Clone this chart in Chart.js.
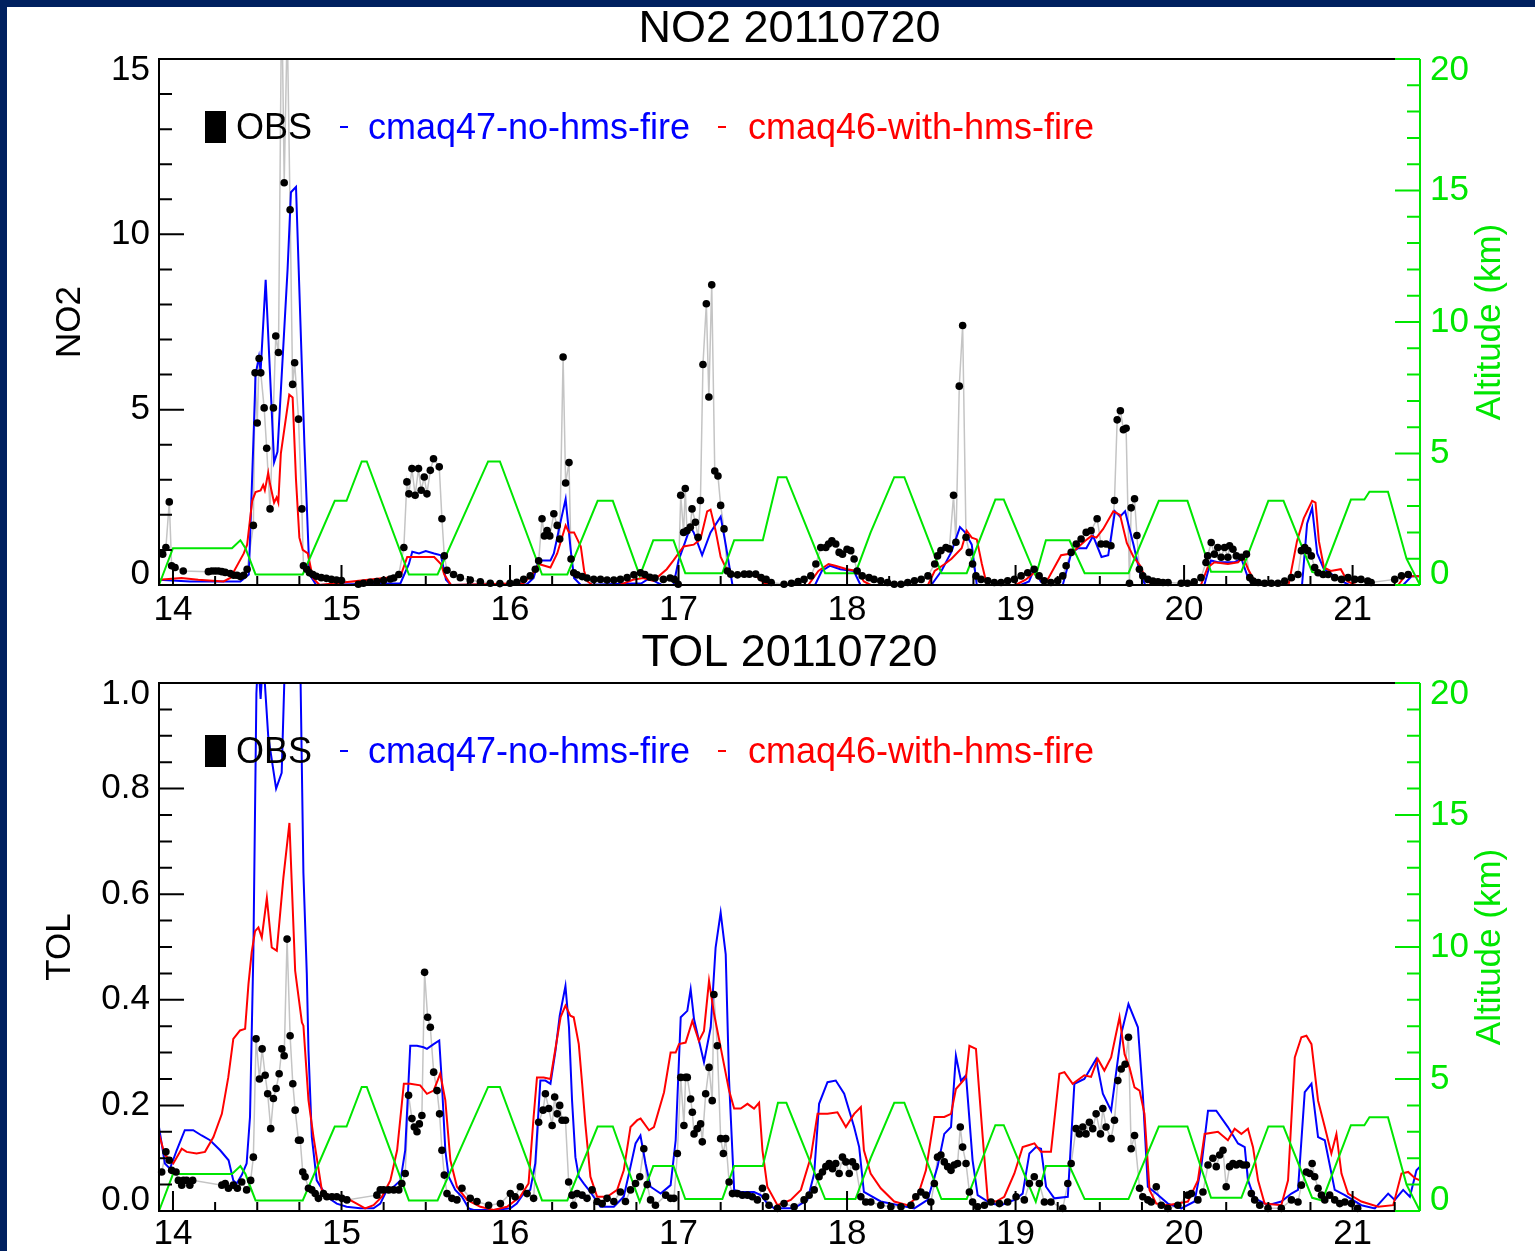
<!DOCTYPE html>
<html>
<head>
<meta charset="utf-8">
<title>NO2 / TOL 20110720</title>
<script src="https://cdn.jsdelivr.net/npm/chart.js@4.4.1/dist/chart.umd.min.js"></script>
<style>
  html, body { margin: 0; padding: 0; background: #00205f; }
  #page { position: absolute; left: 7px; top: 7px; width: 1528px; height: 1244px; background: #fff; }
  #page canvas { position: absolute; left: 0; }
  #no2 { top: 0; }
  #tol { top: 615px; }
</style>
</head>
<body>
<div id="page">
  <canvas id="no2" width="1528" height="615"></canvas>
  <canvas id="tol" width="1528" height="629"></canvas>
</div>
<script>
// flight hours (UTC) and values, as [hour, value] pairs
const flightDate = '20110720';
const legendLabels = ['OBS', 'cmaq47-no-hms-fire', 'cmaq46-with-hms-fire'];
const hourTicks = [14, 15, 16, 17, 18, 19, 20, 21];

const altitudeKm = [
  [13.917,0],[14.00,1.4],[14.35,1.4],[14.40,1.7],[14.43,1.4],[14.49,0.4],[14.77,0.4],[14.96,3.2],
  [15.03,3.2],[15.12,4.7],[15.15,4.7],[15.40,0.4],[15.57,0.4],[15.87,4.7],[15.94,4.7],[16.19,0.4],
  [16.34,0.4],[16.52,3.2],[16.61,3.2],[16.77,0.35],[16.85,1.7],[16.97,1.7],[17.04,0.45],[17.26,0.45],
  [17.33,1.7],[17.50,1.7],[17.59,4.1],[17.64,4.1],[17.87,0.45],[18.05,0.45],[18.14,2.0],[18.28,4.1],
  [18.34,4.1],[18.56,0.45],[18.71,0.45],[18.88,3.25],[18.93,3.25],[19.12,0.35],[19.18,1.7],[19.32,1.7],
  [19.41,0.45],[19.67,0.45],[19.85,3.2],[20.02,3.2],[20.16,0.5],[20.34,0.5],[20.50,3.2],[20.59,3.2],
  [20.76,0.5],[20.82,0.4],[20.99,3.25],[21.07,3.25],[21.10,3.55],[21.21,3.55],[21.32,1.0],[21.40,0]
];

const no2Obs = [
  [13.939,0.88],[13.958,1.07],[13.978,2.37],[13.992,0.55],[14.012,0.5],[14.061,0.4],
  [14.21,0.38],[14.23,0.4],[14.25,0.4],[14.27,0.4],[14.29,0.38],[14.31,0.36],[14.34,0.33],[14.36,0.28],
  [14.38,0.28],[14.40,0.24],[14.42,0.28],[14.44,0.45],[14.477,1.7],[14.487,6.05],[14.50,4.62],[14.511,6.46],
  [14.521,6.05],[14.541,5.05],[14.556,3.9],[14.576,2.17],[14.596,5.05],[14.61,7.1],[14.626,6.63],[14.645,17],
  [14.66,11.47],[14.678,16],[14.695,10.7],[14.71,5.72],[14.722,6.34],[14.745,4.73],[14.765,2.17],[14.774,0.55],
  [14.794,0.45],[14.81,0.35],[14.83,0.3],[14.85,0.25],[14.88,0.21],[14.91,0.19],[14.94,0.16],[14.97,0.14],
  [15.0,0.13],[15.10,0.02],[15.13,0.05],[15.17,0.08],[15.21,0.1],[15.25,0.13],[15.29,0.17],[15.31,0.2],
  [15.34,0.3],[15.37,1.07],[15.388,2.94],[15.40,2.6],[15.418,3.32],[15.437,2.56],[15.457,3.32],[15.473,2.7],
  [15.491,3.08],[15.507,2.6],[15.527,3.27],[15.546,3.6],[15.58,3.37],[15.596,1.89],[15.61,0.83],[15.626,0.42],
  [15.665,0.3],[15.705,0.21],[15.764,0.14],[15.824,0.09],[15.883,0.05],[15.94,0.04],[16.0,0.05],[16.04,0.08],
  [16.081,0.16],[16.12,0.26],[16.15,0.45],[16.17,0.69],[16.19,1.89],[16.204,1.4],[16.22,1.55],[16.236,1.4],
  [16.26,2.03],[16.28,1.7],[16.295,1.31],[16.315,6.5],[16.33,2.91],[16.35,3.49],[16.362,0.74],[16.378,0.35],
  [16.398,0.29],[16.428,0.24],[16.457,0.2],[16.497,0.16],[16.537,0.16],[16.576,0.14],[16.616,0.14],[16.655,0.16],
  [16.695,0.21],[16.735,0.29],[16.774,0.35],[16.80,0.3],[16.83,0.22],[16.86,0.2],[16.91,0.16],[16.95,0.2],
  [16.975,0.16],[16.998,0.02],[17.013,2.56],[17.03,1.5],[17.04,2.75],[17.05,1.55],[17.07,1.65],[17.08,2.17],
  [17.10,1.79],[17.116,1.36],[17.13,2.41],[17.145,6.29],[17.165,8.02],[17.18,5.36],[17.197,8.56],[17.215,3.25],
  [17.234,3.11],[17.25,2.27],[17.27,1.6],[17.29,0.4],[17.31,0.31],[17.35,0.29],[17.39,0.31],[17.42,0.31],
  [17.458,0.31],[17.49,0.21],[17.52,0.16],[17.55,0.07],[17.626,0.02],[17.67,0.05],[17.71,0.1],[17.745,0.16],
  [17.785,0.26],[17.815,0.6],[17.844,1.07],[17.874,1.07],[17.89,1.17],[17.91,1.26],[17.933,1.17],[17.953,0.93],
  [17.973,0.88],[18.0,1.02],[18.022,0.98],[18.042,0.74],[18.06,0.4],[18.09,0.26],[18.13,0.21],[18.16,0.16],
  [18.2,0.12],[18.24,0.07],[18.28,0.02],[18.32,0.02],[18.36,0.07],[18.40,0.12],[18.44,0.16],[18.48,0.26],
  [18.52,0.6],[18.537,0.83],[18.557,0.98],[18.587,1.07],[18.607,1.03],[18.632,2.56],[18.646,1.22],[18.666,5.67],
  [18.686,7.4],[18.706,1.36],[18.725,0.93],[18.745,0.6],[18.765,0.26],[18.795,0.16],[18.835,0.12],[18.874,0.07],
  [18.914,0.07],[18.953,0.12],[18.993,0.16],[19.033,0.26],[19.072,0.35],[19.11,0.45],[19.14,0.26],[19.17,0.12],
  [19.21,0.07],[19.25,0.12],[19.28,0.26],[19.30,0.55],[19.33,0.93],[19.36,1.17],[19.389,1.31],[19.419,1.5],
  [19.448,1.55],[19.484,1.89],[19.507,1.17],[19.537,1.17],[19.566,1.12],[19.587,2.41],[19.603,4.71],[19.622,4.97],
  [19.64,4.43],[19.656,4.47],[19.676,0.05],[19.686,2.2],[19.706,2.46],[19.72,1.41],[19.735,0.45],[19.755,0.26],
  [19.785,0.16],[19.815,0.11],[19.845,0.09],[19.875,0.07],[19.905,0.07],[19.983,0.05],[20.02,0.05],[20.06,0.09],
  [20.1,0.21],[20.13,0.64],[20.14,0.83],[20.161,1.21],[20.18,0.88],[20.2,1.07],[20.22,0.79],[20.24,1.07],
  [20.26,0.79],[20.27,1.12],[20.29,1.02],[20.31,0.83],[20.34,0.79],[20.37,0.88],[20.39,0.21],[20.41,0.11],
  [20.44,0.07],[20.478,0.05],[20.518,0.05],[20.557,0.05],[20.597,0.11],[20.637,0.21],[20.676,0.3],[20.696,0.98],
  [20.716,1.07],[20.735,0.98],[20.755,0.83],[20.775,0.5],[20.795,0.35],[20.825,0.3],[20.855,0.3],[20.894,0.21],
  [20.934,0.16],[20.973,0.21],[21.013,0.16],[21.05,0.16],[21.09,0.11],[21.11,0.07],[21.25,0.16],[21.29,0.26],
  [21.33,0.3]
];

const no2Cmaq47 = [
  [13.917,0.15],[14.1,0.1],[14.4,0.1],[14.45,0.3],[14.48,4.5],[14.49,6.0],[14.51,6.5],[14.52,6.1],
  [14.55,8.7],[14.6,3.5],[14.62,3.8],[14.68,9.0],[14.70,11.2],[14.73,11.35],[14.78,4.0],[14.81,0.3],
  [14.85,0.0],[15.35,0.05],[15.40,0.6],[15.42,0.95],[15.46,0.9],[15.50,0.97],[15.55,0.9],[15.59,0.85],
  [15.62,0.15],[15.65,0.0],[16.10,0.02],[16.14,0.2],[16.17,0.7],[16.24,0.7],[16.26,0.9],[16.30,1.8],
  [16.33,2.45],[16.36,1.0],[16.38,0.2],[16.42,0.0],[16.78,0.05],[16.83,0.2],[16.86,0.1],[16.9,0.0],
  [16.97,0.0],[17.0,0.7],[17.03,1.1],[17.07,1.65],[17.09,1.5],[17.14,0.85],[17.19,1.5],[17.25,1.95],
  [17.28,1.15],[17.32,0.0],[17.81,0.0],[17.85,0.4],[17.9,0.55],[17.96,0.45],[18.04,0.4],[18.08,0.0],
  [18.5,0.0],[18.56,0.4],[18.62,0.95],[18.67,1.65],[18.7,1.5],[18.74,1.15],[18.77,0.0],[19.03,0.0],
  [19.08,0.1],[19.11,0.45],[19.15,0.1],[19.18,0.0],[19.28,0.0],[19.33,0.9],[19.37,1.05],[19.42,1.05],
  [19.46,1.4],[19.51,0.8],[19.55,0.85],[19.59,2.1],[19.62,1.95],[19.65,2.1],[19.70,1.15],[19.74,0.3],
  [19.77,0.0],[20.12,0.0],[20.16,0.7],[20.2,0.65],[20.3,0.65],[20.34,0.75],[20.38,0.2],[20.41,0.0],
  [20.70,0.0],[20.73,1.75],[20.76,2.2],[20.79,0.9],[20.83,0.45],[20.88,0.3],[20.94,0.1],[20.98,0.0],
  [21.3,0.0],[21.35,0.25],[21.40,0.25]
];

const no2Cmaq46 = [
  [13.917,0.15],[14.05,0.2],[14.15,0.15],[14.3,0.1],[14.34,0.2],[14.42,0.9],[14.44,1.15],[14.47,2.4],
  [14.49,2.65],[14.52,2.7],[14.535,2.85],[14.545,2.7],[14.565,3.2],[14.575,2.9],[14.60,2.35],[14.615,2.5],
  [14.625,2.35],[14.64,3.75],[14.69,5.43],[14.71,5.35],[14.73,3.0],[14.75,1.35],[14.77,1.0],[14.80,0.9],
  [14.83,0.2],[14.87,0.0],[15.35,0.25],[15.39,0.8],[15.43,0.8],[15.55,0.8],[15.59,0.6],[15.61,0.3],
  [15.65,0.0],[16.08,0.05],[16.15,0.4],[16.17,0.6],[16.24,0.5],[16.28,0.9],[16.33,1.7],[16.35,1.5],
  [16.38,1.5],[16.42,1.1],[16.44,0.4],[16.46,0.1],[16.49,0.0],[16.65,0.0],[16.73,0.15],[16.79,0.2],
  [16.85,0.12],[16.93,0.45],[16.97,0.7],[17.0,0.9],[17.03,1.1],[17.09,1.15],[17.13,1.3],[17.17,2.1],
  [17.19,2.15],[17.22,1.55],[17.25,0.8],[17.29,0.4],[17.33,0.3],[17.45,0.3],[17.51,0.05],[17.55,0.0],
  [17.77,0.0],[17.83,0.4],[17.89,0.6],[17.93,0.55],[18.0,0.45],[18.06,0.4],[18.1,0.1],[18.14,0.0],
  [18.48,0.0],[18.52,0.4],[18.58,0.6],[18.62,0.75],[18.68,1.05],[18.71,1.55],[18.74,1.35],[18.77,1.3],
  [18.8,0.6],[18.83,0.0],[19.0,0.0],[19.06,0.15],[19.11,0.35],[19.13,0.2],[19.19,0.15],[19.27,0.85],
  [19.33,0.9],[19.41,1.25],[19.45,1.4],[19.48,1.35],[19.52,1.6],[19.58,2.1],[19.62,2.0],[19.66,1.2],
  [19.70,0.8],[19.74,0.55],[19.77,0.2],[19.81,0.0],[20.1,0.0],[20.14,0.5],[20.18,0.65],[20.26,0.6],
  [20.32,0.65],[20.35,0.8],[20.38,0.45],[20.42,0.1],[20.46,0.0],[20.62,0.0],[20.67,1.25],[20.71,1.9],
  [20.76,2.4],[20.78,2.35],[20.80,1.25],[20.83,0.5],[20.87,0.4],[20.93,0.45],[20.97,0.1],[21.02,0.0],
  [21.27,0.0],[21.31,0.25],[21.40,0.25]
];

const tolObs = [
  [13.933,0.074],[13.958,0.112],[13.978,0.096],[13.992,0.077],[14.018,0.074],[14.032,0.058],[14.052,0.049],[14.062,0.058],
  [14.081,0.058],[14.10,0.049],[14.117,0.058],[14.29,0.049],[14.31,0.052],[14.329,0.043],[14.358,0.049],[14.382,0.043],
  [14.408,0.055],[14.437,0.04],[14.461,0.058],[14.477,0.102],[14.493,0.326],[14.513,0.25],[14.529,0.307],[14.547,0.257],
  [14.562,0.222],[14.58,0.156],[14.596,0.213],[14.612,0.232],[14.63,0.26],[14.646,0.307],[14.66,0.294],[14.677,0.515],
  [14.695,0.332],[14.711,0.241],[14.725,0.191],[14.745,0.134],[14.755,0.134],[14.77,0.074],[14.784,0.065],[14.804,0.043],
  [14.824,0.04],[14.844,0.033],[14.863,0.024],[14.893,0.033],[14.913,0.027],[14.943,0.027],[14.972,0.027],[15.002,0.024],
  [15.032,0.021],[15.21,0.03],[15.23,0.04],[15.25,0.04],[15.28,0.04],[15.31,0.04],[15.34,0.04],[15.358,0.052],
  [15.378,0.071],[15.398,0.219],[15.418,0.175],[15.432,0.159],[15.448,0.15],[15.462,0.165],[15.477,0.181],[15.493,0.452],
  [15.511,0.367],[15.527,0.348],[15.547,0.263],[15.567,0.228],[15.582,0.184],[15.596,0.115],[15.61,0.068],[15.626,0.033],
  [15.655,0.024],[15.685,0.021],[15.715,0.043],[15.764,0.024],[15.804,0.018],[15.873,0.011],[15.943,0.014],[16.002,0.033],
  [16.03,0.027],[16.061,0.046],[16.101,0.033],[16.14,0.024],[16.17,0.168],[16.196,0.191],[16.21,0.222],[16.23,0.194],
  [16.25,0.162],[16.265,0.216],[16.28,0.184],[16.295,0.2],[16.309,0.172],[16.329,0.172],[16.348,0.055],[16.368,0.03],
  [16.378,0.011],[16.398,0.033],[16.428,0.03],[16.457,0.024],[16.487,0.04],[16.517,0.018],[16.547,0.014],[16.576,0.024],
  [16.616,0.018],[16.655,0.036],[16.685,0.018],[16.715,0.04],[16.745,0.052],[16.77,0.065],[16.794,0.118],[16.814,0.05],
  [16.834,0.021],[16.863,0.011],[16.924,0.03],[16.953,0.024],[16.973,0.024],[16.993,0.109],[17.013,0.253],[17.032,0.162],
  [17.042,0.253],[17.052,0.253],[17.072,0.212],[17.082,0.187],[17.092,0.146],[17.111,0.156],[17.131,0.165],[17.141,0.131],
  [17.161,0.222],[17.181,0.272],[17.2,0.209],[17.21,0.41],[17.23,0.313],[17.25,0.137],[17.266,0.109],[17.28,0.137],
  [17.3,0.055],[17.32,0.033],[17.349,0.033],[17.379,0.03],[17.409,0.03],[17.438,0.027],[17.468,0.021],[17.498,0.043],
  [17.517,0.027],[17.537,0.011],[17.587,0.005],[17.626,0.014],[17.686,0.008],[17.745,0.021],[17.775,0.03],[17.805,0.04],
  [17.834,0.065],[17.854,0.074],[17.874,0.084],[17.894,0.09],[17.914,0.08],[17.933,0.09],[17.953,0.071],[17.973,0.102],
  [17.993,0.093],[18.013,0.071],[18.032,0.093],[18.052,0.084],[18.082,0.027],[18.111,0.017],[18.141,0.017],[18.2,0.011],
  [18.26,0.008],[18.32,0.008],[18.379,0.011],[18.408,0.027],[18.438,0.036],[18.468,0.03],[18.497,0.017],[18.518,0.052],
  [18.537,0.102],[18.557,0.106],[18.577,0.093],[18.597,0.084],[18.617,0.077],[18.636,0.087],[18.656,0.09],[18.672,0.159],
  [18.686,0.121],[18.706,0.09],[18.726,0.036],[18.745,0.017],[18.775,0.008],[18.815,0.011],[18.854,0.017],[18.904,0.014],
  [18.953,0.017],[19.003,0.027],[19.052,0.021],[19.082,0.052],[19.111,0.065],[19.141,0.052],[19.171,0.017],[19.21,0.017],
  [19.28,0.005],[19.31,0.052],[19.33,0.09],[19.359,0.156],[19.379,0.146],[19.399,0.159],[19.418,0.146],[19.438,0.168],
  [19.458,0.156],[19.478,0.184],[19.504,0.146],[19.518,0.194],[19.537,0.159],[19.567,0.137],[19.587,0.172],[19.607,0.247],
  [19.627,0.269],[19.65,0.278],[19.67,0.329],[19.686,0.118],[19.706,0.143],[19.736,0.043],[19.755,0.027],[19.785,0.021],
  [19.805,0.017],[19.835,0.046],[19.865,0.011],[19.904,0.005],[19.963,0.011],[20.023,0.03],[20.043,0.033],[20.082,0.021],
  [20.112,0.036],[20.142,0.087],[20.171,0.1],[20.191,0.084],[20.211,0.106],[20.231,0.115],[20.25,0.046],[20.27,0.084],
  [20.29,0.09],[20.31,0.087],[20.33,0.09],[20.35,0.087],[20.37,0.087],[20.399,0.033],[20.419,0.021],[20.449,0.011],
  [20.498,0.005],[20.577,0.005],[20.637,0.021],[20.676,0.017],[20.696,0.049],[20.726,0.074],[20.746,0.071],[20.76,0.09],
  [20.775,0.065],[20.795,0.043],[20.815,0.03],[20.835,0.021],[20.864,0.03],[20.894,0.021],[20.924,0.014],[20.954,0.017],
  [20.993,0.014],[21.03,0.005]
];

const tolCmaq47 = [
  [13.917,0.159],[13.952,0.09],[13.982,0.08],[14.022,0.115],[14.07,0.153],[14.12,0.153],[14.17,0.143],[14.22,0.134],
  [14.28,0.115],[14.33,0.096],[14.358,0.058],[14.378,0.052],[14.408,0.068],[14.437,0.09],[14.457,0.178],[14.477,0.49],
  [14.495,0.98],[14.505,1.05],[14.52,0.97],[14.535,1.05],[14.565,0.9],[14.612,0.80],[14.645,0.83],[14.665,1.05],
  [14.70,1.25],[14.755,1.05],[14.774,0.64],[14.794,0.45],[14.804,0.304],[14.824,0.14],[14.853,0.058],[14.913,0.027],
  [14.972,0.014],[15.03,0.008],[15.11,0.005],[15.19,0.005],[15.23,0.014],[15.27,0.04],[15.31,0.046],[15.35,0.058],
  [15.378,0.115],[15.408,0.313],[15.448,0.313],[15.487,0.31],[15.507,0.307],[15.547,0.316],[15.58,0.323],[15.596,0.241],
  [15.616,0.115],[15.636,0.065],[15.675,0.04],[15.715,0.027],[15.755,0.005],[15.784,0.002],[15.903,0.002],[16.002,0.005],
  [16.04,0.014],[16.08,0.033],[16.12,0.04],[16.15,0.09],[16.18,0.247],[16.21,0.247],[16.24,0.241],[16.27,0.304],
  [16.295,0.37],[16.329,0.426],[16.35,0.348],[16.368,0.21],[16.388,0.102],[16.408,0.065],[16.438,0.052],[16.477,0.036],
  [16.537,0.008],[16.616,0.008],[16.675,0.027],[16.715,0.084],[16.745,0.128],[16.774,0.143],[16.804,0.09],[16.834,0.046],
  [16.894,0.033],[16.953,0.049],[16.983,0.134],[17.013,0.367],[17.052,0.379],[17.072,0.42],[17.092,0.363],[17.151,0.282],
  [17.191,0.348],[17.22,0.499],[17.25,0.565],[17.28,0.486],[17.3,0.247],[17.33,0.04],[17.369,0.036],[17.448,0.036],
  [17.488,0.03],[17.527,0.014],[17.567,0.005],[17.686,0.005],[17.765,0.021],[17.805,0.071],[17.834,0.203],[17.884,0.244],
  [17.933,0.247],[17.983,0.222],[18.042,0.159],[18.072,0.121],[18.1,0.036],[18.2,0.018],[18.399,0.005],[18.478,0.021],
  [18.537,0.084],[18.577,0.146],[18.617,0.159],[18.646,0.294],[18.676,0.247],[18.706,0.257],[18.745,0.096],[18.775,0.03],
  [18.854,0.014],[18.914,0.011],[18.993,0.021],[19.042,0.033],[19.082,0.109],[19.121,0.121],[19.151,0.118],[19.181,0.046],
  [19.23,0.024],[19.31,0.027],[19.349,0.241],[19.408,0.25],[19.478,0.288],[19.518,0.222],[19.567,0.19],[19.627,0.335],
  [19.67,0.392],[19.726,0.348],[19.755,0.222],[19.785,0.046],[19.835,0.033],[19.904,0.014],[19.983,0.005],[20.062,0.018],
  [20.102,0.084],[20.142,0.19],[20.191,0.19],[20.26,0.159],[20.32,0.128],[20.36,0.121],[20.379,0.058],[20.419,0.024],
  [20.498,0.011],[20.577,0.018],[20.637,0.033],[20.676,0.04],[20.716,0.225],[20.756,0.241],[20.795,0.14],[20.835,0.134],
  [20.894,0.04],[20.954,0.03],[21.052,0.011],[21.132,0.005],[21.211,0.033],[21.25,0.021],[21.3,0.04],[21.34,0.027],
  [21.379,0.077],[21.40,0.084]
];

const tolCmaq46 = [
  [13.917,0.146],[13.952,0.106],[14.002,0.09],[14.052,0.118],[14.081,0.112],[14.14,0.109],[14.19,0.112],[14.24,0.14],
  [14.29,0.184],[14.328,0.253],[14.358,0.326],[14.398,0.342],[14.428,0.345],[14.448,0.43],[14.467,0.49],[14.487,0.53],
  [14.507,0.537],[14.527,0.518],[14.557,0.593],[14.586,0.499],[14.616,0.493],[14.655,0.631],[14.691,0.735],[14.725,0.455],
  [14.735,0.43],[14.765,0.357],[14.774,0.351],[14.804,0.21],[14.834,0.14],[14.883,0.04],[14.933,0.027],[14.992,0.024],
  [15.032,0.024],[15.09,0.014],[15.14,0.005],[15.19,0.011],[15.24,0.027],[15.29,0.058],[15.33,0.115],[15.37,0.241],
  [15.408,0.241],[15.467,0.238],[15.507,0.222],[15.547,0.228],[15.586,0.26],[15.616,0.21],[15.646,0.096],[15.685,0.046],
  [15.745,0.021],[15.824,0.008],[15.903,0.002],[15.982,0.008],[16.06,0.027],[16.11,0.052],[16.14,0.178],[16.16,0.253],
  [16.2,0.253],[16.24,0.25],[16.3,0.367],[16.329,0.389],[16.358,0.37],[16.378,0.367],[16.408,0.316],[16.428,0.241],
  [16.447,0.165],[16.477,0.065],[16.517,0.027],[16.576,0.027],[16.636,0.04],[16.675,0.077],[16.715,0.159],[16.755,0.172],
  [16.775,0.175],[16.825,0.153],[16.854,0.159],[16.914,0.225],[16.953,0.3],[16.983,0.3],[17.003,0.316],[17.042,0.319],
  [17.082,0.36],[17.121,0.322],[17.151,0.341],[17.181,0.436],[17.211,0.373],[17.25,0.31],[17.3,0.228],[17.33,0.194],
  [17.369,0.194],[17.409,0.203],[17.448,0.194],[17.478,0.205],[17.498,0.115],[17.527,0.046],[17.587,0.011],[17.666,0.021],
  [17.726,0.04],[17.785,0.102],[17.825,0.184],[17.884,0.184],[17.943,0.187],[17.993,0.159],[18.042,0.184],[18.082,0.197],
  [18.1,0.115],[18.14,0.071],[18.2,0.043],[18.28,0.018],[18.359,0.011],[18.418,0.027],[18.468,0.077],[18.518,0.178],
  [18.577,0.178],[18.617,0.184],[18.646,0.231],[18.706,0.253],[18.726,0.313],[18.765,0.307],[18.805,0.14],[18.835,0.021],
  [18.884,0.018],[18.933,0.027],[18.993,0.071],[19.042,0.121],[19.072,0.124],[19.112,0.128],[19.151,0.112],[19.21,0.112],
  [19.26,0.26],[19.29,0.263],[19.339,0.241],[19.408,0.257],[19.448,0.254],[19.488,0.288],[19.527,0.266],[19.567,0.291],
  [19.617,0.367],[19.647,0.297],[19.676,0.272],[19.706,0.234],[19.736,0.228],[19.765,0.184],[19.795,0.04],[19.835,0.014],
  [19.904,0.011],[20.023,0.018],[20.082,0.058],[20.122,0.146],[20.201,0.15],[20.26,0.134],[20.3,0.156],[20.34,0.146],
  [20.379,0.156],[20.409,0.121],[20.439,0.058],[20.478,0.014],[20.577,0.011],[20.617,0.058],[20.657,0.291],[20.696,0.329],
  [20.726,0.332],[20.756,0.316],[20.795,0.209],[20.835,0.159],[20.874,0.109],[20.904,0.146],[20.934,0.071],[20.973,0.033],
  [21.052,0.018],[21.152,0.008],[21.241,0.011],[21.29,0.071],[21.33,0.074],[21.37,0.062],[21.40,0.058]
];

const FONT = "'Liberation Sans', Arial, Helvetica, sans-serif";
const ALT_GREEN = '#00e600';
const HOUR_MIN = 13.917;
const HOUR_MAX = 21.40;

Chart.defaults.font.family = FONT;
Chart.defaults.color = '#000';

function toPoints(pairs) {
  return pairs.map(([x, y]) => ({ x, y }));
}

// walk minor tick values between min and max, flagging the major ones
function eachTick(min, max, step, majorEvery, fn) {
  const first = Math.ceil(min / step - 1e-6);
  const last = Math.floor(max / step + 1e-6);
  for (let i = first; i <= last; i++) fn(i * step, i % majorEvery === 0);
}

// y labels IDL-style: the end labels are pulled inside the axis range
function drawYLabels(ctx, scale, fmt, x) {
  const ticks = scale.ticks;
  ticks.forEach((t, i) => {
    let py = scale.getPixelForValue(t.value);
    if (i === 0) py -= 11;
    else if (i === ticks.length - 1) py += 11;
    ctx.fillText(fmt(t.value), x, py);
  });
}

// IDL-style frame: inward ticks, green altitude axis, title and legend
const idlFrame = {
  id: 'idlFrame',
  afterDraw(chart, args, o) {
    const { ctx, chartArea: a } = chart;
    const xs = chart.scales.x, ys = chart.scales.y, as = chart.scales.yAlt;
    ctx.save();
    ctx.lineWidth = 2;

    ctx.strokeStyle = '#000';
    ctx.beginPath();
    ctx.moveTo(a.right, a.top);
    ctx.lineTo(a.left, a.top);
    ctx.lineTo(a.left, a.bottom);
    ctx.lineTo(a.right, a.bottom);
    eachTick(xs.min, xs.max, 0.25, 4, (v, major) => {
      const px = xs.getPixelForValue(v);
      ctx.moveTo(px, a.bottom);
      ctx.lineTo(px, a.bottom - (major ? 20 : 9));
    });
    eachTick(ys.min, ys.max, o.yMinor, o.yMajorEvery, (v, major) => {
      const py = ys.getPixelForValue(v);
      ctx.moveTo(a.left, py);
      ctx.lineTo(a.left + (major ? 25 : 13), py);
    });
    ctx.stroke();

    ctx.strokeStyle = ALT_GREEN;
    ctx.beginPath();
    ctx.moveTo(a.right, a.top);
    ctx.lineTo(a.right, a.bottom);
    eachTick(as.min, as.max, 1, 5, (v, major) => {
      const py = as.getPixelForValue(v);
      ctx.moveTo(a.right, py);
      ctx.lineTo(a.right - (major ? 25 : 13), py);
    });
    ctx.stroke();

    // tick labels of both vertical axes
    ctx.font = `35px ${FONT}`;
    ctx.textBaseline = 'middle';
    ctx.textAlign = 'right';
    ctx.fillStyle = '#000';
    drawYLabels(ctx, ys, o.yLabel, a.left - 9);
    ctx.textAlign = 'left';
    ctx.fillStyle = ALT_GREEN;
    drawYLabels(ctx, as, v => String(v), a.right + 10);

    // panel title
    ctx.fillStyle = '#000';
    ctx.font = `45px ${FONT}`;
    ctx.textAlign = 'center';
    ctx.fillText(o.title, (a.left + a.right) / 2, a.top - 29);

    // right axis title, reading upwards
    ctx.save();
    ctx.translate(a.right + 70, (a.top + a.bottom) / 2);
    ctx.rotate(-Math.PI / 2);
    ctx.fillStyle = ALT_GREEN;
    ctx.font = `35px ${FONT}`;
    ctx.fillText('Altitude (km)', 0, 0);
    ctx.restore();

    // legend
    const ly = a.top + 70;
    ctx.font = `36px ${FONT}`;
    ctx.textAlign = 'left';
    ctx.fillStyle = '#000';
    ctx.fillRect(a.left + 46, a.top + 52, 21, 32);
    ctx.fillText(legendLabels[0], a.left + 77, ly);
    ctx.fillStyle = '#0000ff';
    ctx.fillRect(a.left + 181, ly - 3, 8, 2);
    ctx.fillText(legendLabels[1], a.left + 209, ly);
    ctx.fillStyle = '#ff0000';
    ctx.fillRect(a.left + 559, ly - 3, 8, 2);
    ctx.fillText(legendLabels[2], a.left + 589, ly);

    ctx.restore();
  }
};

function buildPanel(canvas, p) {
  const lineStyle = { borderWidth: 2, pointRadius: 0, tension: 0, clip: 1 };
  const hidden = { display: false };
  return new Chart(canvas, {
    type: 'line',
    data: {
      datasets: [
        { label: legendLabels[0], data: toPoints(p.obs), showLine: false, pointRadius: 3.8,
          pointBackgroundColor: '#000', pointBorderWidth: 0, clip: 5 },
        { label: 'Altitude', data: toPoints(altitudeKm), yAxisID: 'yAlt', borderColor: ALT_GREEN, ...lineStyle },
        { label: legendLabels[2], data: toPoints(p.cmaq46), borderColor: '#ff0000', ...lineStyle },
        { label: legendLabels[1], data: toPoints(p.cmaq47), borderColor: '#0000ff', ...lineStyle },
        { label: 'OBS trace', data: toPoints(p.obs), borderColor: '#c4c4c4', borderWidth: 1.5,
          pointRadius: 0, tension: 0, clip: 1 }
      ]
    },
    options: {
      responsive: false,
      animation: false,
      devicePixelRatio: 1,
      layout: { padding: { top: p.top, left: 0, right: 0, bottom: 0 } },
      plugins: {
        legend: { display: false },
        tooltip: { enabled: false },
        idlFrame: { title: p.title, yMinor: p.yMinor, yMajorEvery: p.yMajorEvery, yLabel: p.yLabel }
      },
      scales: {
        x: {
          type: 'linear', min: HOUR_MIN, max: HOUR_MAX,
          grid: { display: false, drawTicks: false }, border: hidden,
          ticks: {
            stepSize: 1, includeBounds: false, autoSkip: false, maxRotation: 0, padding: p.xPad,
            font: { size: 35 }, color: '#000',
            callback: v => hourTicks.includes(v) ? String(v) : ''
          },
          afterFit: s => { s.height = p.xHeight; }
        },
        y: {
          position: 'left', min: 0, max: p.yMax,
          grid: { display: false, drawTicks: false }, border: hidden,
          ticks: { stepSize: p.yStep, display: false },
          title: { display: true, text: p.yTitle, font: { size: 35 }, color: '#000',
                   padding: { top: p.yTitlePad, bottom: 0 } },
          afterFit: s => { s.width = 152; }
        },
        yAlt: {
          position: 'right', min: 0, max: 20,
          grid: { display: false, drawTicks: false }, border: hidden,
          ticks: { stepSize: 5, display: false },
          afterFit: s => { s.width = 115; }
        }
      }
    },
    plugins: [idlFrame]
  });
}

buildPanel(document.getElementById('no2'), {
  title: 'NO2 ' + flightDate, yTitle: 'NO2', yTitlePad: 42,
  obs: no2Obs, cmaq47: no2Cmaq47, cmaq46: no2Cmaq46,
  yMax: 15, yStep: 5, yMinor: 1, yMajorEvery: 5, yLabel: v => String(v),
  top: 52, xHeight: 37, xPad: 4
});

buildPanel(document.getElementById('tol'), {
  title: 'TOL ' + flightDate, yTitle: 'TOL', yTitlePad: 32,
  obs: tolObs, cmaq47: tolCmaq47, cmaq46: tolCmaq46,
  yMax: 1, yStep: 0.2, yMinor: 0.05, yMajorEvery: 4, yLabel: v => v.toFixed(1),
  top: 61, xHeight: 40, xPad: 2
});
</script>
</body>
</html>
